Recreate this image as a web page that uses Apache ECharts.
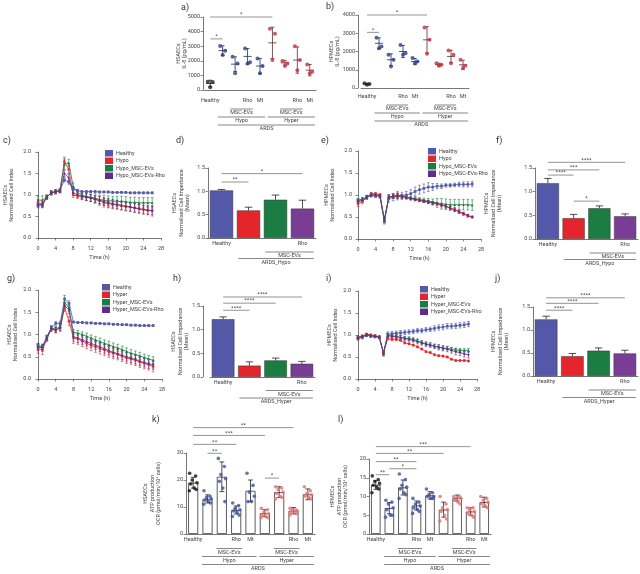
<!DOCTYPE html>
<html><head><meta charset="utf-8">
<script src="https://cdn.jsdelivr.net/npm/echarts@6/dist/echarts.min.js"></script>
<style>html,body{margin:0;padding:0;background:#fff}#c{width:640px;height:574px}</style>
</head><body><div id="c"></div>
<script>
// ================= DATA =================
const dotCats = ['Healthy','Hypo','Hypo MSC-EVs','Hypo MSC-EVs Rho','Hypo Mt','Hyper','Hyper MSC-EVs','Hyper MSC-EVs Rho','Hyper Mt'];
const dotTickLabels = ['Healthy','','','Rho','Mt','','','Rho','Mt'];
const dotGroupText = ['MSC-EVs','MSC-EVs','Hypo','Hyper','ARDS'];
const dotGroupFrom = [2,6,1,5,1];
const dotGroupTo = [3,7,4,8,8];
const dotGroupLevel = [1,1,2,2,3];

const barCats = ['Healthy','ARDS','ARDS MSC-EVs','ARDS MSC-EVs Rho'];
const barTickLabels = ['Healthy','','','Rho'];
const barGroupFrom = [2,1];
const barGroupTo = [3,3];
const barGroupLevel = [1,2];
const hypoGroupText = ['MSC-EVs','ARDS_Hypo'];
const hyperGroupText = ['MSC-EVs','ARDS_Hyper'];

// a) HSAECs IL-8
const aPoints = [[560,540,180],[3020,2680,2390],[2270,1820,1140],[2840,1900,1820],[2160,1640,1140],[4200,3860,2050],[1980,1820,1640],[3000,2050,1360],[1750,1250,1140]];
const aMean = [450,2700,1770,2300,1640,3230,1860,2050,1360];
const aErr = [220,330,500,540,520,1070,170,900,390];
const aSigFrom = [0,0], aSigTo = [5,1], aSigY = [5000,3500], aSigText = ['*','*'];

// b) HPMECs IL-8
const bPoints = [[260,220,180],[2760,2270,2180],[1820,1550,1180],[2360,1900,1820],[1640,1450,1360],[3320,2650,1880],[1360,1280,1220],[2050,1820,1360],[1550,1220,1090]];
const bMean = [220,2450,1550,2000,1450,2640,1280,1730,1270];
const bErr = [40,300,320,330,170,720,80,340,250];
const bSigFrom = [0,0], bSigTo = [5,1], bSigY = [4000,3050], bSigText = ['*','*'];

// time course
const hours = [0,1,2,3,4,5,6,7,8,9,10,11,12,13,14,15,16,17,18,19,20,21,22,23,24,25,26];
// c) HSAECs hypo
const cHealthy = [0.75,0.75,0.95,1.05,1.08,1.1,1.35,1.3,1.15,1.1,1.08,1.08,1.08,1.08,1.07,1.07,1.07,1.06,1.06,1.06,1.06,1.05,1.05,1.05,1.05,1.05,1.05];
const cHypo = [0.82,0.8,0.95,1.05,1.07,1.1,1.78,1.6,1.0,0.98,0.96,0.95,0.93,0.9,0.86,0.82,0.8,0.78,0.77,0.75,0.73,0.72,0.7,0.68,0.66,0.64,0.63];
const cMsc = [0.88,0.88,0.95,1.05,1.08,1.1,1.72,1.75,1.2,1.05,1.0,0.97,0.95,0.93,0.9,0.88,0.87,0.86,0.85,0.85,0.84,0.83,0.83,0.82,0.82,0.82,0.82];
const cRho = [0.78,0.78,0.95,1.05,1.08,1.1,1.5,1.4,1.05,1.0,0.97,0.95,0.93,0.9,0.88,0.85,0.82,0.8,0.78,0.76,0.74,0.72,0.7,0.68,0.66,0.65,0.64];
const cErrHealthy = [0.05,0.05,0.03,0.03,0.03,0.03,0.05,0.05,0.04,0.03,0.02,0.02,0.02,0.02,0.02,0.02,0.02,0.02,0.02,0.02,0.02,0.02,0.02,0.02,0.02,0.02,0.02];
const cErrHypo = [0.08,0.08,0.05,0.05,0.05,0.05,0.1,0.1,0.06,0.06,0.07,0.08,0.08,0.09,0.1,0.1,0.1,0.1,0.1,0.1,0.1,0.1,0.1,0.1,0.1,0.1,0.12];
const cErrMsc = [0.1,0.1,0.05,0.05,0.05,0.05,0.12,0.08,0.08,0.08,0.08,0.09,0.1,0.1,0.1,0.11,0.11,0.11,0.12,0.12,0.12,0.12,0.12,0.12,0.12,0.12,0.12];
const cErrRho = [0.06,0.06,0.04,0.04,0.04,0.04,0.08,0.08,0.06,0.06,0.07,0.08,0.08,0.08,0.09,0.09,0.1,0.1,0.1,0.1,0.1,0.1,0.1,0.1,0.1,0.1,0.1];
// e) HPMECs hypo
const eHealthy = [0.88,0.9,0.95,1.0,0.98,0.97,0.4,0.92,0.95,0.97,0.98,1.0,1.03,1.08,1.12,1.15,1.18,1.18,1.2,1.2,1.22,1.22,1.23,1.24,1.24,1.24,1.25];
const eHypo = [0.8,0.85,0.95,1.03,1.03,1.0,0.42,0.95,0.97,1.0,0.97,0.95,0.92,0.9,0.88,0.86,0.85,0.82,0.8,0.78,0.75,0.7,0.67,0.62,0.58,0.53,0.5];
const eMsc = [0.88,0.9,0.95,1.0,1.0,0.98,0.42,0.95,0.97,0.98,0.97,0.95,0.93,0.92,0.9,0.88,0.86,0.84,0.82,0.8,0.79,0.78,0.78,0.78,0.78,0.78,0.77];
const eRho = [0.85,0.88,0.95,1.0,1.0,0.98,0.45,0.95,0.97,0.98,0.96,0.94,0.92,0.9,0.88,0.86,0.84,0.82,0.8,0.77,0.74,0.7,0.66,0.62,0.57,0.53,0.5];
const eErrHealthy = [0.04,0.04,0.04,0.04,0.04,0.04,0.06,0.08,0.08,0.08,0.08,0.08,0.09,0.1,0.1,0.1,0.1,0.08,0.06,0.05,0.04,0.04,0.04,0.05,0.06,0.06,0.06];
const eErrHypo = [0.06,0.05,0.04,0.03,0.03,0.03,0.05,0.05,0.05,0.08,0.04,0.03,0.03,0.03,0.03,0.03,0.03,0.03,0.03,0.03,0.04,0.04,0.04,0.04,0.03,0.03,0.02];
const eErrMsc = [0.04,0.04,0.04,0.04,0.04,0.04,0.05,0.05,0.05,0.05,0.04,0.04,0.04,0.04,0.04,0.05,0.06,0.07,0.1,0.12,0.12,0.12,0.12,0.12,0.12,0.12,0.12];
const eErrRho = [0.04,0.04,0.04,0.04,0.04,0.04,0.05,0.05,0.05,0.05,0.04,0.03,0.03,0.03,0.03,0.03,0.03,0.03,0.03,0.04,0.04,0.04,0.04,0.04,0.03,0.03,0.02];
// g) HSAECs hyper
const gHealthy = [0.75,0.73,0.95,1.15,1.25,1.25,1.8,1.7,1.28,1.27,1.27,1.26,1.26,1.25,1.25,1.24,1.24,1.23,1.23,1.22,1.22,1.21,1.21,1.2,1.2,1.2,1.2];
const gHyper = [0.68,0.65,0.9,1.12,1.1,1.15,1.6,1.3,0.92,0.9,0.85,0.8,0.76,0.72,0.68,0.65,0.61,0.58,0.55,0.51,0.47,0.45,0.42,0.38,0.35,0.32,0.28];
const gMsc = [0.72,0.72,0.92,1.15,1.12,1.18,1.72,1.6,1.05,1.03,1.0,0.96,0.92,0.88,0.84,0.8,0.77,0.73,0.7,0.66,0.62,0.58,0.55,0.52,0.48,0.45,0.42];
const gRho = [0.72,0.7,0.92,1.13,1.1,1.15,1.65,1.55,0.95,0.92,0.88,0.84,0.8,0.76,0.72,0.68,0.64,0.6,0.57,0.53,0.5,0.47,0.44,0.4,0.37,0.34,0.32];
const gErrHealthy = [0.04,0.04,0.04,0.04,0.04,0.05,0.08,0.06,0.02,0.02,0.02,0.02,0.02,0.02,0.02,0.02,0.02,0.02,0.02,0.02,0.02,0.02,0.02,0.02,0.02,0.02,0.02];
const gErrHyper = [0.1,0.1,0.06,0.05,0.06,0.08,0.08,0.1,0.12,0.12,0.12,0.12,0.12,0.12,0.12,0.12,0.12,0.12,0.12,0.12,0.12,0.12,0.12,0.12,0.12,0.12,0.12];
const gErrMsc = [0.06,0.06,0.05,0.05,0.06,0.06,0.08,0.08,0.06,0.06,0.06,0.07,0.07,0.07,0.08,0.08,0.08,0.08,0.08,0.08,0.08,0.08,0.08,0.08,0.08,0.08,0.08];
const gErrRho = [0.08,0.08,0.05,0.05,0.06,0.06,0.08,0.08,0.1,0.1,0.1,0.1,0.1,0.1,0.1,0.1,0.1,0.1,0.1,0.1,0.1,0.1,0.1,0.1,0.1,0.1,0.1];
// i) HPMECs hyper
const iHealthy = [0.92,0.95,1.0,0.98,0.97,0.95,0.58,1.02,1.03,1.04,1.05,1.06,1.07,1.08,1.1,1.1,1.12,1.13,1.15,1.17,1.18,1.2,1.2,1.21,1.22,1.23,1.25];
const iHyper = [0.95,0.97,1.02,1.0,0.98,0.95,0.6,0.92,0.9,0.9,0.88,0.82,0.8,0.77,0.73,0.68,0.62,0.6,0.55,0.53,0.52,0.5,0.45,0.42,0.42,0.42,0.41];
const iMsc = [0.95,0.97,1.0,0.99,0.97,0.95,0.6,1.0,0.98,0.97,0.95,0.93,0.92,0.9,0.87,0.83,0.8,0.78,0.75,0.73,0.7,0.7,0.68,0.66,0.65,0.65,0.65];
const iRho = [0.93,0.96,1.0,0.98,0.97,0.95,0.58,0.98,0.97,0.96,0.94,0.92,0.9,0.88,0.85,0.82,0.79,0.77,0.74,0.72,0.7,0.68,0.65,0.62,0.6,0.57,0.55];
const iErrHealthy = [0.04,0.04,0.03,0.03,0.03,0.03,0.06,0.05,0.05,0.05,0.05,0.05,0.05,0.05,0.05,0.05,0.05,0.05,0.06,0.06,0.06,0.06,0.06,0.06,0.06,0.06,0.06];
const iErrHyper = [0.03,0.03,0.02,0.02,0.02,0.02,0.04,0.03,0.03,0.03,0.02,0.02,0.02,0.02,0.02,0.02,0.02,0.02,0.02,0.02,0.02,0.02,0.02,0.02,0.02,0.02,0.02];
const iErrMsc = [0.03,0.03,0.03,0.03,0.03,0.03,0.05,0.04,0.04,0.04,0.04,0.04,0.04,0.04,0.04,0.04,0.04,0.04,0.04,0.04,0.04,0.04,0.04,0.04,0.04,0.04,0.04];
const iErrRho = [0.03,0.03,0.03,0.03,0.03,0.03,0.05,0.04,0.04,0.04,0.04,0.04,0.04,0.04,0.05,0.05,0.05,0.05,0.05,0.06,0.06,0.06,0.06,0.07,0.07,0.07,0.07];

// bar panels
const dMean = [1.02,0.59,0.82,0.63], dErr = [0.02,0.07,0.1,0.18];
const dSigFrom = [0,0], dSigTo = [1,3], dSigY = [1.2,1.38], dSigText = ['**','*'];
const fMean = [1.18,0.44,0.65,0.48], fErr = [0.1,0.08,0.05,0.05];
const fSigFrom = [0,0,0,1], fSigTo = [1,2,3,2], fSigY = [1.35,1.46,1.62,0.8], fSigText = ['****','***','****','*'];
const hMean = [1.22,0.24,0.35,0.28], hErr = [0.05,0.08,0.05,0.05];
const hSigFrom = [0,0,0], hSigTo = [1,2,3], hSigY = [1.41,1.56,1.69], hSigText = ['****','****','****'];
const jMean = [1.23,0.43,0.55,0.49], jErr = [0.07,0.06,0.06,0.07];
const jSigFrom = [0,0,0], jSigTo = [1,2,3], jSigY = [1.43,1.58,1.70], jSigText = ['****','****','****'];

// k) HSAECs ATP
const kMean = [19,13,21.2,8.9,16,7.7,15.5,8.6,14.7];
const kErr = [2,1.5,5.5,1.5,4,1.3,2,1.2,2];
const kPoints = [[22.5,21.5,20,19,18.5,17,16.5,16],[16,14,13.5,13,12.5,12,11.5,11],[28,25,22,20.5,19.5,17,12],[11.5,10.5,9.5,9,8.5,8,7,6.5],[22.5,18,15.5,14,12,12],[9.5,9,8,7.5,7,6.5,6,6],[17.5,17,16.5,15.5,15,14,13.5,13],[9.5,9,9,8.5,8,8,7.5,7],[17.5,16,15,14.5,14,13.5,13]];
const kSigFrom = [0,0,0,1,5], kSigTo = [7,5,3,2,6], kSigY = [39.4,36.5,33.2,29.9,20.7], kSigText = ['**','***','**','**','*'];
// l) HPMECs ATP
const lMean = [13.1,6.9,12.4,7.6,10.3,6.5,9.6,6.0,8.5];
const lErr = [1.2,1.5,2,1.2,1,2,0.8,1,1.3];
const lPoints = [[15.5,14.5,14,13.5,13,12.5,12,11],[9,8.5,8,7,6.5,5,5,4.5],[16,14.5,13,12.5,12,11,10.5,9.5],[9.5,8.5,8,7.5,7,6.5,6,5.5],[12,11,10.5,10,10,9.5,9.5],[10,8,7,6.5,6,5,4,3.5],[10,10,9.5,9.5,9,8.5,8],[7,7,6.5,6,5.5,5,4.5],[10,9.5,9,8.5,8,7.5,7]];
const lSigFrom = [0,0,0,1,0], lSigTo = [7,5,3,3,1], lSigY = [23.3,21.5,19.3,17.4,15.8], lSigText = ['***','**','**','*','**'];

// ================= STYLE =================
const FONT = 'Roboto';
const TXT = '#444';
const AX = '#555';
const FS = 5.5;
const cBlue = '#5458a8', cRed = '#e4262c', cGreen = '#1c7d43', cPurple = '#5e2d8a';
const barColors = [cBlue, cRed, cGreen, '#7a3d96'];
const abDot = ['#222','#2e3c84','#2e3c84','#2e3c84','#2e3c84','#c4303c','#c4303c','#c4303c','#c4303c'];
const abErrCol = ['#111','#1e2a5a','#1e2a5a','#1e2a5a','#1e2a5a','#5a2a2a','#5a2a2a','#5a2a2a','#5a2a2a'];
const klDot = ['#111','#3f4f9e','#3f4f9e','#3f4f9e','#3f4f9e','#e2706f','#e2706f','#e2706f','#e2706f'];
const JIT3 = [-2.5,2.5,0];
const JIT8 = [-3.5,2.5,-1,3.8,-2.5,1,3,-3.8];

// ================= BUILDERS =================
const grids = [
  {left:204, top:17, width:112, height:73},   // a
  {left:361, top:15, width:108, height:73},   // b
  {left:38, top:152, width:123, height:86},   // c
  {left:208, top:168, width:108, height:70},  // d
  {left:358, top:151, width:123, height:88},  // e
  {left:535, top:168, width:103, height:71},  // f
  {left:38, top:290, width:124, height:89},   // g
  {left:210, top:306, width:105, height:71},  // h
  {left:358, top:291, width:119, height:88},  // i
  {left:533, top:307, width:105, height:69},  // j
  {left:186, top:453, width:129, height:81},  // k
  {left:369, top:459, width:122, height:75}   // l
];

function catX(gi, cats, ticks, offset) {
  return {type:'category', gridIndex:gi, data:cats, offset:offset||0,
    axisLine:{lineStyle:{color:AX,width:0.8}},
    axisTick:{alignWithLabel:true,length:2.5,lineStyle:{color:AX,width:0.7}},
    axisLabel:{fontSize:FS,color:TXT,fontFamily:FONT,margin:3,interval:0,formatter:(v,i)=>ticks[i]}};
}
function valX(gi, offset) {
  return {type:'value', gridIndex:gi, min:0, max:28, interval:4, offset:offset||0,
    name:'Time (h)', nameLocation:'middle', nameGap:12,
    nameTextStyle:{fontSize:FS,color:TXT,fontFamily:FONT},
    axisLine:{lineStyle:{color:AX,width:0.8}},
    axisTick:{length:2.5,lineStyle:{color:AX,width:0.7}},
    axisLabel:{fontSize:FS,color:TXT,fontFamily:FONT,margin:3},
    splitLine:{show:false}};
}
function valY(gi, min, max, interval, name, gap, offset, dec) {
  return {type:'value', gridIndex:gi, min, max, interval, offset:offset||0,
    name, nameLocation:'middle', nameRotate:90, nameGap:gap, nameMoveOverlap:false,
    nameTextStyle:{fontSize:FS, lineHeight:6.5, color:TXT, fontFamily:FONT},
    axisLine:{show:true, lineStyle:{color:AX, width:0.8}},
    axisTick:{show:true, length:2.5, lineStyle:{color:AX, width:0.7}},
    axisLabel:{fontSize:FS, color:TXT, fontFamily:FONT, margin:3,
      formatter: v => dec != null ? v.toFixed(dec) : String(v)},
    splitLine:{show:false}};
}

function sigSeries(gi, from, to, ys, texts) {
  return {type:'custom', xAxisIndex:gi, yAxisIndex:gi, silent:true, clip:false, z:5,
    data: from.map((f,i)=>[f, ys[i], to[i], i]), encode:{x:0,y:1},
    renderItem(p, api) {
      const a = api.coord([api.value(0), api.value(1)]);
      const b = api.coord([api.value(2), api.value(1)]);
      const t = texts[api.value(3)];
      return {type:'group', children:[
        {type:'line', shape:{x1:a[0],y1:a[1],x2:b[0],y2:b[1]}, style:{stroke:'#666',lineWidth:0.7}},
        {type:'text', style:{text:t, x:(a[0]+b[0])/2, y:a[1]+0.8, align:'center', verticalAlign:'bottom', fontSize:6, fill:'#444', fontFamily:FONT}}
      ]};
    }};
}

function groupSeries(gi, yMin, from, to, lev, texts, first, gap) {
  return {type:'custom', xAxisIndex:gi, yAxisIndex:gi, silent:true, clip:false, z:5,
    data: from.map((f,i)=>[f, yMin, to[i], lev[i], i]), encode:{x:0,y:1},
    renderItem(p, api) {
      const band = api.size([1,0])[0];
      const a = api.coord([api.value(0), api.value(1)]);
      const b = api.coord([api.value(2), api.value(1)]);
      const x1 = a[0] - band*0.38, x2 = b[0] + band*0.42;
      const y = a[1] + first + gap*(api.value(3)-1);
      return {type:'group', children:[
        {type:'line', shape:{x1,y1:y,x2,y2:y}, style:{stroke:'#555',lineWidth:0.7}},
        {type:'text', style:{text:texts[api.value(4)], x:(x1+x2)/2, y:y+0.8, align:'center', verticalAlign:'top', fontSize:FS, fill:TXT, fontFamily:FONT}}
      ]};
    }};
}

// mean +/- SD for dot plots (a, b)
function dotErrSeries(gi, mean, err, cols) {
  return {type:'custom', xAxisIndex:gi, yAxisIndex:gi, silent:true, z:3,
    data: mean.map((m,i)=>[i, m, err[i]]), encode:{x:0,y:1},
    renderItem(p, api) {
      const band = api.size([1,0])[0];
      const i = api.value(0), m = api.value(1), e = api.value(2);
      const c = api.coord([i,m]), t = api.coord([i,m+e]), b = api.coord([i,m-e]);
      const col = cols[i], hw = band*0.33, cw = band*0.15;
      const st = {stroke:col, lineWidth:0.8};
      return {type:'group', children:[
        {type:'line', shape:{x1:t[0],y1:t[1],x2:b[0],y2:b[1]}, style:st},
        {type:'line', shape:{x1:c[0]-hw,y1:c[1],x2:c[0]+hw,y2:c[1]}, style:st},
        {type:'line', shape:{x1:t[0]-cw,y1:t[1],x2:t[0]+cw,y2:t[1]}, style:st},
        {type:'line', shape:{x1:b[0]-cw,y1:b[1],x2:b[0]+cw,y2:b[1]}, style:st}
      ]};
    }};
}

// error bars for bar charts: up only (d,f,h,j) or both (k,l)
function barErrSeries(gi, mean, err, both) {
  return {type:'custom', xAxisIndex:gi, yAxisIndex:gi, silent:true, z:3,
    data: mean.map((m,i)=>[i, m, err[i]]), encode:{x:0,y:1},
    renderItem(p, api) {
      const band = api.size([1,0])[0];
      const i = api.value(0), m = api.value(1), e = api.value(2);
      const t = api.coord([i,m+e]), b = api.coord([i, both ? m-e : m]);
      const cw = band*(both ? 0.17 : 0.14);
      const st = {stroke:'#222', lineWidth:0.8};
      const ch = [
        {type:'line', shape:{x1:t[0],y1:t[1],x2:b[0],y2:b[1]}, style:st},
        {type:'line', shape:{x1:t[0]-cw,y1:t[1],x2:t[0]+cw,y2:t[1]}, style:st}
      ];
      if (both) ch.push({type:'line', shape:{x1:b[0]-cw,y1:b[1],x2:b[0]+cw,y2:b[1]}, style:st});
      return {type:'group', children:ch};
    }};
}

function dotScatter(gi, points, cols, jit, size) {
  const data = [];
  points.forEach((arr, i) => arr.forEach((v, j) => data.push({value:[i, v], symbolOffset:[jit[j % jit.length], 0], itemStyle:{color:cols[i]}})));
  return {type:'scatter', xAxisIndex:gi, yAxisIndex:gi, symbol:'circle', symbolSize:size, z:4, data, silent:true};
}

function lineSeries(gi, name, vals, color, sym) {
  return {type:'line', name, xAxisIndex:gi, yAxisIndex:gi, data: hours.map((h,i)=>[h, vals[i]]),
    symbol:sym, symbolSize:2.6, showSymbol:true, color,
    lineStyle:{color, width:0.8}, itemStyle:{color}, z:4, silent:true};
}
function lineErrSeries(gi, vals, errs, color) {
  return {type:'custom', xAxisIndex:gi, yAxisIndex:gi, silent:true, z:3,
    data: hours.map((h,i)=>[h, vals[i], errs[i]]), encode:{x:0,y:1},
    renderItem(p, api) {
      const h = api.value(0), v = api.value(1), e = api.value(2);
      const t = api.coord([h, v+e]), b = api.coord([h, v-e]);
      const w = 1.3, st = {stroke:color, lineWidth:0.6};
      return {type:'group', children:[
        {type:'line', shape:{x1:t[0],y1:t[1],x2:b[0],y2:b[1]}, style:st},
        {type:'line', shape:{x1:t[0]-w,y1:t[1],x2:t[0]+w,y2:t[1]}, style:st},
        {type:'line', shape:{x1:b[0]-w,y1:b[1],x2:b[0]+w,y2:b[1]}, style:st}
      ]};
    }};
}

function colorBars(gi, mean) {
  return {type:'bar', xAxisIndex:gi, yAxisIndex:gi, barWidth:'86%', z:2, silent:true,
    data: mean.map((m,i)=>({value:m, itemStyle:{color:barColors[i], borderColor:'#333', borderWidth:0.5}}))};
}
function whiteBars(gi, mean) {
  return {type:'bar', xAxisIndex:gi, yAxisIndex:gi, barWidth:'70%', z:2, silent:true,
    data: mean, itemStyle:{color:'#fff', borderColor:'#333', borderWidth:0.8}};
}

const lineNames = {
  hypo:['Healthy','Hypo','Hypo_MSC-EVs','Hypo_MSC-EVs-Rho'],
  hyper:['Healthy','Hyper','Hyper_MSC-EVs','Hyper_MSC-EVs-Rho']
};
const lineCols = [cBlue, cRed, cGreen, cPurple];
const lineSyms = ['rect','circle','triangle','diamond'];
function linePanel(gi, names, vals, errs) {
  const s = [];
  vals.forEach((v,k) => s.push(lineErrSeries(gi, v, errs[k], lineCols[k])));
  vals.forEach((v,k) => s.push(lineSeries(gi, names[k], v, lineCols[k], lineSyms[k])));
  return s;
}

const xAxis = [
  catX(0, dotCats, dotTickLabels, 5),
  catX(1, dotCats, dotTickLabels, 3),
  valX(2, 5),
  catX(3, barCats, barTickLabels, 0),
  valX(4, 5),
  catX(5, barCats, barTickLabels, 0),
  valX(6, 5),
  catX(7, barCats, barTickLabels, 0),
  valX(8, 5),
  catX(9, barCats, barTickLabels, 0),
  catX(10, dotCats, dotTickLabels, 0),
  catX(11, dotCats, dotTickLabels, 0)
];
const yAxis = [
  valY(0, 0, 5000, 1000, 'HSAECs\nIL-8 (pg/mL)', 15, 1),
  valY(1, 0, 4000, 1000, 'HPMECs\nIL-8 (pg/mL)', 17, 3),
  valY(2, 0, 2, 0.5, 'HSAECs\nNormalised Cell Index', 19, 4, 1),
  valY(3, 0, 1.5, 0.5, 'HSAECs\nNormalised Cell Impedance\n(Mean)', 17, 0, 1),
  valY(4, 0, 2, 0.5, 'HPMECs\nNormalised Cell Index', 19, 3, 1),
  valY(5, 0, 1.5, 0.5, 'HPMECs\nNormalised Cell Impedance\n(Mean)', 32, 0, 1),
  valY(6, 0, 2, 0.5, 'HSAECs\nNormalised Cell Index', 15, 4, 1),
  valY(7, 0, 1.5, 0.5, 'HSAECs\nNormalised Cell Impedance\n(Mean)', 13, 7, 1),
  valY(8, 0, 2, 0.5, 'HPMECs\nNormalised Cell Index', 15, 4, 1),
  valY(9, 0, 1.5, 0.5, 'HPMECs\nNormalised Cell Impedance\n(Mean)', 23, 0, 1),
  valY(10, 0, 30, 10, 'HSAECs\nATP production\nOCR (pmol/min/10⁴ cells)', 24, 0),
  valY(11, 0, 20, 5, 'HPMECs\nATP production\nOCR (pmol/min/10⁴ cells)', 20, 0)
];

const series = [
  // a
  dotErrSeries(0, aMean, aErr, abErrCol), dotScatter(0, aPoints, abDot, JIT3, 4),
  sigSeries(0, aSigFrom, aSigTo, aSigY, aSigText),
  groupSeries(0, 0, dotGroupFrom, dotGroupTo, dotGroupLevel, dotGroupText, 19, 8),
  // b
  dotErrSeries(1, bMean, bErr, abErrCol), dotScatter(1, bPoints, abDot, JIT3, 4),
  sigSeries(1, bSigFrom, bSigTo, bSigY, bSigText),
  groupSeries(1, 0, dotGroupFrom, dotGroupTo, dotGroupLevel, dotGroupText, 17, 8),
  // c
  ...linePanel(2, lineNames.hypo, [cHealthy,cHypo,cMsc,cRho], [cErrHealthy,cErrHypo,cErrMsc,cErrRho]),
  // d
  colorBars(3, dMean), barErrSeries(3, dMean, dErr, false), sigSeries(3, dSigFrom, dSigTo, dSigY, dSigText),
  groupSeries(3, 0, barGroupFrom, barGroupTo, barGroupLevel, hypoGroupText, 14, 6.5),
  // e
  ...linePanel(4, lineNames.hypo, [eHealthy,eHypo,eMsc,eRho], [eErrHealthy,eErrHypo,eErrMsc,eErrRho]),
  // f
  colorBars(5, fMean), barErrSeries(5, fMean, fErr, false), sigSeries(5, fSigFrom, fSigTo, fSigY, fSigText),
  groupSeries(5, 0, barGroupFrom, barGroupTo, barGroupLevel, hypoGroupText, 14, 6.5),
  // g
  ...linePanel(6, lineNames.hyper, [gHealthy,gHyper,gMsc,gRho], [gErrHealthy,gErrHyper,gErrMsc,gErrRho]),
  // h
  colorBars(7, hMean), barErrSeries(7, hMean, hErr, false), sigSeries(7, hSigFrom, hSigTo, hSigY, hSigText),
  groupSeries(7, 0, barGroupFrom, barGroupTo, barGroupLevel, hyperGroupText, 13.5, 7.5),
  // i
  ...linePanel(8, lineNames.hyper, [iHealthy,iHyper,iMsc,iRho], [iErrHealthy,iErrHyper,iErrMsc,iErrRho]),
  // j
  colorBars(9, jMean), barErrSeries(9, jMean, jErr, false), sigSeries(9, jSigFrom, jSigTo, jSigY, jSigText),
  groupSeries(9, 0, barGroupFrom, barGroupTo, barGroupLevel, hyperGroupText, 14, 7.5),
  // k
  whiteBars(10, kMean), barErrSeries(10, kMean, kErr, true), dotScatter(10, kPoints, klDot, JIT8, 3.6),
  sigSeries(10, kSigFrom, kSigTo, kSigY, kSigText),
  groupSeries(10, 0, dotGroupFrom, dotGroupTo, dotGroupLevel, dotGroupText, 14.5, 8),
  // l
  whiteBars(11, lMean), barErrSeries(11, lMean, lErr, true), dotScatter(11, lPoints, klDot, JIT8, 3.6),
  sigSeries(11, lSigFrom, lSigTo, lSigY, lSigText),
  groupSeries(11, 0, dotGroupFrom, dotGroupTo, dotGroupLevel, dotGroupText, 14.5, 8)
];

function legendAt(names, left, top) {
  return {data:names, left, top, orient:'vertical', icon:'rect', itemWidth:8, itemHeight:6.5, itemGap:1,
    selectedMode:false, padding:0, textStyle:{fontSize:FS, color:TXT, fontFamily:FONT, padding:[0,0,0,-2]}};
}
const legend = [
  legendAt(lineNames.hypo, 105, 150),
  legendAt(lineNames.hypo, 428, 148),
  legendAt(lineNames.hyper, 102, 284),
  legendAt(lineNames.hyper, 420, 286)
];

const panelLetters = ['a)','b)','c)','d)','e)','f)','g)','h)','i)','j)','k)','l)'];
const letterPos = [[181,3],[326,2],[3,136],[176,136],[321,136],[496,136],[7,274],[173,274],[326,274],[495,274],[152,415],[338,415]];
const graphic = panelLetters.map((t,i)=>({type:'text', left:letterPos[i][0], top:letterPos[i][1],
  style:{text:t, fontSize:9, fill:'#333', fontFamily:FONT}}));

const chart = echarts.init(document.getElementById('c'), null, {renderer:'canvas'});
chart.setOption({animation:false, backgroundColor:'#fff', textStyle:{fontFamily:FONT},
  grid:grids, xAxis, yAxis, legend, series, graphic});
</script></body></html>
